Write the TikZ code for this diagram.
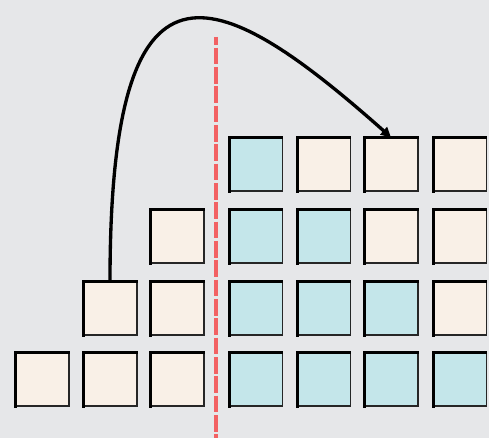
\documentclass[tikz,border=0pt]{standalone}
\usetikzlibrary{arrows.meta}
\definecolor{bg}{HTML}{E6E7E9}
\definecolor{cream}{HTML}{F9F0E7}
\definecolor{lblue}{HTML}{C4E6EA}
\definecolor{divred}{HTML}{F26163}
\tikzset{
  cell/.style={draw=black!85, line width=1.3pt, minimum width=40.5pt, minimum height=40pt, inner sep=0pt, outer sep=0pt},
  cr/.style={cell, fill=cream},
  bl/.style={cell, fill=lblue},
  divider/.style={draw=divred, line width=2.3pt, dash pattern=on 12.5pt off 2pt, dash phase=6.5pt},
  jump/.style={draw=black, line width=2.5pt, -{Triangle[length=7.5pt,width=7.5pt]}}
}
\begin{document}
\begin{tikzpicture}[x=0.75pt,y=-0.75pt]
\fill[bg] (0,0) rectangle (489,438);
\useasboundingbox (0,0) rectangle (489,438);
% divider
\coordinate (dtop) at (216,37);
\coordinate (dbot) at (216,438);
\draw[divider] (dtop) -- (dbot);
% row 1
\node[bl] (r1c4) at (255.5,164) {};
\node[cr] (r1c5) at (323.5,164) {};
\node[cr] (r1c6) at (391,164) {};
\node[cr] (r1c7) at (459.5,164) {};
% row 2
\node[cr] (r2c3) at (177,236) {};
\node[bl] (r2c4) at (255.5,236) {};
\node[bl] (r2c5) at (323.5,236) {};
\node[cr] (r2c6) at (391,236) {};
\node[cr] (r2c7) at (459.5,236) {};
% row 3
\node[cr] (r3c2) at (110,308) {};
\node[cr] (r3c3) at (177,308) {};
\node[bl] (r3c4) at (255.5,308) {};
\node[bl] (r3c5) at (323.5,308) {};
\node[bl] (r3c6) at (391,308) {};
\node[cr] (r3c7) at (459.5,308) {};
% row 4
\node[cr] (r4c1) at (42,379) {};
\node[cr] (r4c2) at (110,379) {};
\node[cr] (r4c3) at (177,379) {};
\node[bl] (r4c4) at (255.5,379) {};
\node[bl] (r4c5) at (323.5,379) {};
\node[bl] (r4c6) at (391,379) {};
\node[bl] (r4c7) at (459.5,379) {};
% heavier left/top edges
\foreach \n in {r1c4,r1c5,r1c6,r1c7,r2c3,r2c4,r2c5,r2c6,r2c7,r3c2,r3c3,r3c4,r3c5,r3c6,r3c7,r4c1,r4c2,r4c3,r4c4,r4c5,r4c6,r4c7}{
  \draw[black, line width=2.2pt, line cap=rect] ([xshift=0.4pt,yshift=-0.4pt]\n.south west) -- ([xshift=0.4pt,yshift=-0.4pt]\n.north west) -- ([xshift=-0.4pt,yshift=-0.4pt]\n.north east);
}
% arrow
\draw[jump] (r3c2.north) .. controls +(0,-345) and +(-178,-158) .. (r1c6.north);
\end{tikzpicture}
\end{document}
